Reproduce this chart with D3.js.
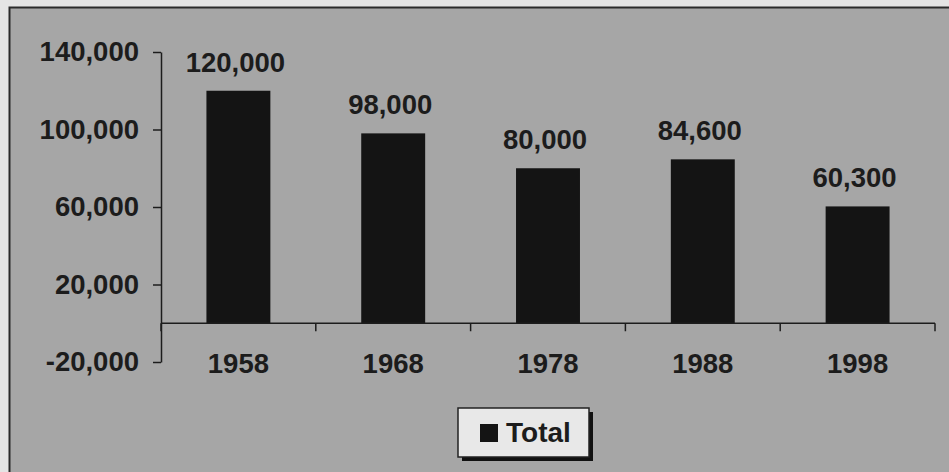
<!DOCTYPE html>
<html>
<head>
<meta charset="utf-8">
<script src="https://cdn.jsdelivr.net/npm/d3@7"></script>
<style>
  body { margin: 0; background: #e4e4e4; }
  text { font-family: "Liberation Sans", Arial, sans-serif; fill: #1c1c1c; }
</style>
</head>
<body>
<div id="chart"></div>
<script>
// Chart data
const years = ["1958", "1968", "1978", "1988", "1998"];
const totals = [120000, 98000, 80000, 84600, 60300];
const yTicks = [-20000, 20000, 60000, 100000, 140000];
const seriesName = "Total";

const width = 949, height = 472;

const svg = d3.select("#chart")
    .append("svg")
    .attr("width", width)
    .attr("height", height);

// Chart frame
svg.append("rect")
    .attr("x", 9.5)
    .attr("y", 7.5)
    .attr("width", width)
    .attr("height", height)
    .attr("fill", "#a6a6a6")
    .attr("stroke", "#2a2a2a")
    .attr("stroke-width", 2);

const inner = 0.587;
const x = d3.scaleBand()
    .domain(years)
    .range([161, 935])
    .paddingInner(inner)
    .paddingOuter(inner / 2);

const y = d3.scaleLinear()
    .domain([-20000, 140000])
    .range([362, 52]);

// plain hyphen for negatives, like the original
const fmt = d3.formatLocale({decimal: ".", thousands: ",", grouping: [3], currency: ["", ""], minus: "-"}).format(",");

const fontSize = 27.5;
const fontWeight = "bold";

// Y axis
const yAxis = svg.append("g")
    .attr("transform", "translate(161,0)")
    .call(d3.axisLeft(y).tickValues(yTicks).tickSize(8).tickSizeOuter(0).tickPadding(14).tickFormat(fmt));
yAxis.select(".domain").attr("stroke", "#1c1c1c").attr("stroke-width", 1.5);
yAxis.selectAll(".tick line").attr("stroke", "#1c1c1c").attr("stroke-width", 1.5);
yAxis.selectAll(".tick text")
    .attr("font-size", fontSize)
    .attr("font-weight", fontWeight)
    .style("font-family", "'Liberation Sans', Arial, sans-serif")
    .attr("fill", "#1c1c1c");

// Bars
svg.selectAll(".bar")
    .data(years)
    .enter()
    .append("rect")
    .attr("class", "bar")
    .attr("x", d => x(d))
    .attr("y", (d, i) => y(totals[i]))
    .attr("width", x.bandwidth())
    .attr("height", (d, i) => y(0) - y(totals[i]))
    .attr("fill", "#141414");

// Category axis at zero
const x0 = x.range()[0], x1 = x.range()[1];
svg.append("line")
    .attr("x1", x0).attr("x2", x1)
    .attr("y1", y(0)).attr("y2", y(0))
    .attr("stroke", "#1c1c1c")
    .attr("stroke-width", 1.5);

svg.selectAll(".xtick")
    .data(d3.range(years.length + 1))
    .enter()
    .append("line")
    .attr("x1", i => x0 + i * x.step())
    .attr("x2", i => x0 + i * x.step())
    .attr("y1", y(0))
    .attr("y2", y(0) + 8)
    .attr("stroke", "#1c1c1c")
    .attr("stroke-width", 1.5);

svg.selectAll(".xlabel")
    .data(years)
    .enter()
    .append("text")
    .attr("x", d => x(d) + x.bandwidth() / 2)
    .attr("y", 373)
    .attr("text-anchor", "middle")
    .attr("font-size", fontSize)
    .attr("font-weight", fontWeight)
    .text(d => d);

// Value labels
svg.selectAll(".vlabel")
    .data(years)
    .enter()
    .append("text")
    .attr("x", d => x(d) + x.bandwidth() / 2 - 3)
    .attr("y", (d, i) => y(totals[i]) - 19)
    .attr("text-anchor", "middle")
    .attr("font-size", fontSize)
    .attr("font-weight", fontWeight)
    .text((d, i) => fmt(totals[i]));

// Legend
const legend = svg.append("g").attr("transform", "translate(458,408)");
legend.append("rect")
    .attr("x", 4).attr("y", 4)
    .attr("width", 131).attr("height", 49)
    .attr("fill", "#111");
legend.append("rect")
    .attr("x", 0).attr("y", 0)
    .attr("width", 131).attr("height", 49)
    .attr("fill", "#e8e8e8")
    .attr("stroke", "#222")
    .attr("stroke-width", 1.5);
legend.append("rect")
    .attr("x", 22).attr("y", 16)
    .attr("width", 18).attr("height", 18)
    .attr("fill", "#141414");
legend.append("text")
    .attr("x", 48).attr("y", 34)
    .attr("font-size", 28)
    .attr("font-weight", "bold")
    .text(seriesName);
</script>
</body>
</html>
